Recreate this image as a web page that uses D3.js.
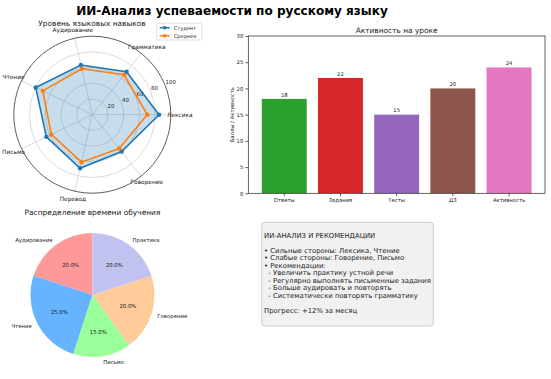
<!DOCTYPE html>
<html>
<head>
<meta charset="utf-8">
<script src="https://cdn.jsdelivr.net/npm/d3@7"></script>
<style>
    body { margin: 0; background: #fff; }
    svg { font-family: "DejaVu Sans", sans-serif; display: block; }
</style>
</head>
<body>
<svg id="chart" width="551" height="379"></svg>
<script>
// radar data
let skills = ['Лексика', 'Грамматика', 'Аудирование', 'Чтение', 'Письмо', 'Перевод', 'Говорение'];
let studentScores = [85, 70, 65, 80, 65, 70, 60];
let averageScores = [70, 65, 60, 70, 58, 62, 55];
let radialTicks = [20, 40, 60, 80, 100];

// bar data
let activityTypes = ['Ответы', 'Задания', 'Тесты', 'ДЗ', 'Активность'];
let activityValues = [18, 22, 15, 20, 24];
let activityColors = ['#2ca02c', '#d62728', '#9467bd', '#8c564b', '#e377c2'];
let barTicks = [0, 5, 10, 15, 20, 25, 30];

// pie data
let timeLabels = ['Аудирование', 'Чтение', 'Письмо', 'Говорение', 'Практика'];
let timeShares = [20, 25, 15, 20, 20];
let timeColors = ['#ff9999', '#66b3ff', '#99ff99', '#ffcc99', '#c2c2f0'];

// text block
let reportLines = [
    'ИИ-АНАЛИЗ И РЕКОМЕНДАЦИИ',
    '',
    '• Сильные стороны: Лексика, Чтение',
    '• Слабые стороны: Говорение, Письмо',
    '• Рекомендации:',
    '  - Увеличить практику устной речи',
    '  - Регулярно выполнять письменные задания',
    '  - Больше аудировать и повторять',
    '  - Систематически повторять грамматику',
    '',
    'Прогресс: +12% за месяц'
];

let svg = d3.select('#chart');

// font size that makes a text node as wide as it is in the reference
function fitSize(node, target) {
    let fs = parseFloat(node.getAttribute('font-size'));
    let w = node.getComputedTextLength();
    return w > 0 ? fs * target / w : fs;
}

let mainTitle = svg.append('text')
    .attr('x', 232).attr('y', 14.5)
    .attr('text-anchor', 'middle')
    .attr('font-size', 12.5).attr('font-weight', 'bold')
    .text('ИИ-Анализ успеваемости по русскому языку');
mainTitle.attr('font-size', fitSize(mainTitle.node(), 312));

drawRadar();
drawBars();
drawPie();
drawReport();

function drawRadar() {
    let cx = 92.3, cy = 114.7, R = 78.5;
    let g = svg.append('g').attr('transform', 'translate(' + cx + ',' + cy + ')');
    let r = d3.scaleLinear().domain([0, 100]).range([0, R]);
    let angle = d3.scaleLinear().domain([0, skills.length]).range([0, 2 * Math.PI]);

    // point for index i, value v (0 rad = right, counter-clockwise)
    let pt = (i, v) => [r(v) * Math.cos(angle(i)), -r(v) * Math.sin(angle(i))];

    g.selectAll('circle.grid')
        .data(radialTicks.slice(0, -1))
        .enter().append('circle')
        .attr('r', d => r(d))
        .attr('fill', 'none').attr('stroke', '#d0d0d0').attr('stroke-width', 0.8);

    g.selectAll('line.spoke')
        .data(skills)
        .enter().append('line')
        .attr('x1', 0).attr('y1', 0)
        .attr('x2', (d, i) => pt(i, 100)[0])
        .attr('y2', (d, i) => pt(i, 100)[1])
        .attr('stroke', '#d0d0d0').attr('stroke-width', 0.8);

    g.append('circle').attr('r', R)
        .attr('fill', 'none').attr('stroke', '#333').attr('stroke-width', 0.8);

    let line = d3.line().curve(d3.curveLinearClosed);
    let studentPts = studentScores.map((v, i) => pt(i, v));
    let averagePts = averageScores.map((v, i) => pt(i, v));

    g.append('path').attr('d', line(studentPts))
        .attr('fill', '#1f77b4').attr('fill-opacity', 0.25).attr('stroke', 'none');

    g.append('path').attr('d', line(studentPts))
        .attr('fill', 'none').attr('stroke', '#1f77b4').attr('stroke-width', 1.6);
    g.selectAll('circle.s').data(studentPts).enter().append('circle')
        .attr('cx', d => d[0]).attr('cy', d => d[1]).attr('r', 2.2).attr('fill', '#1f77b4');

    g.append('path').attr('d', line(averagePts))
        .attr('fill', 'none').attr('stroke', '#ff7f0e').attr('stroke-width', 1.6);
    g.selectAll('circle.a').data(averagePts).enter().append('circle')
        .attr('cx', d => d[0]).attr('cy', d => d[1]).attr('r', 2.2).attr('fill', '#ff7f0e');

    // radial tick labels along 22.5 deg
    let ra = 22.5 * Math.PI / 180;
    g.selectAll('text.rt').data(radialTicks).enter().append('text')
        .attr('x', d => r(d) * Math.cos(ra) + 0.8)
        .attr('y', d => -r(d) * Math.sin(ra) - 0.8)
        .attr('font-size', 5.4).attr('fill', '#222')
        .text(d => d);

    let labels = g.selectAll('text.lab').data(skills).enter().append('text')
        .attr('x', (d, i) => (R + 9) * Math.cos(angle(i)))
        .attr('y', (d, i) => -(R + 8) * Math.sin(angle(i)))
        .attr('text-anchor', 'middle').attr('dominant-baseline', 'central')
        .attr('font-size', 6.2).attr('fill', '#222')
        .text(d => d);
    labels.attr('font-size', fitSize(labels.nodes()[2], 40.7));

    let title = svg.append('text')
        .attr('x', 92).attr('y', 25.5)
        .attr('text-anchor', 'middle').attr('font-size', 8).attr('fill', '#222')
        .text('Уровень языковых навыков');
    title.attr('font-size', fitSize(title.node(), 107.5));

    // legend
    let lg = svg.append('g').attr('transform', 'translate(156.7,23.3)');
    lg.append('rect').attr('width', 45).attr('height', 16.7).attr('rx', 1.5)
        .attr('fill', '#fff').attr('stroke', '#d6d6d6').attr('stroke-width', 0.8);
    let entries = [['Студент', '#1f77b4'], ['Среднее', '#ff7f0e']];
    let legendTexts = [];
    entries.forEach((e, i) => {
        let y = 4.4 + i * 8;
        lg.append('line').attr('x1', 3).attr('x2', 13).attr('y1', y).attr('y2', y)
            .attr('stroke', e[1]).attr('stroke-width', 1.5);
        lg.append('circle').attr('cx', 8).attr('cy', y).attr('r', 1.8).attr('fill', e[1]);
        legendTexts.push(lg.append('text').attr('x', 17).attr('y', y)
            .attr('dominant-baseline', 'central')
            .attr('font-size', 5.6).attr('fill', '#222').text(e[0]));
    });
    let legendSize = fitSize(legendTexts[0].node(), 22.3);
    legendTexts.forEach(t => t.attr('font-size', legendSize));
}

function drawBars() {
    let left = 248.3, right = 545, top = 36, bottom = 193.3;
    let x = d3.scaleBand().domain(activityTypes).range([left, right])
        .paddingInner(0.2).paddingOuter(0.24);
    let y = d3.scaleLinear().domain([0, 30]).range([bottom, top]);

    svg.selectAll('rect.bar').data(activityValues).enter().append('rect')
        .attr('x', (d, i) => x(activityTypes[i]))
        .attr('y', d => y(d))
        .attr('width', x.bandwidth())
        .attr('height', d => y(0) - y(d))
        .attr('fill', (d, i) => activityColors[i]);

    let yAxis = svg.append('g').attr('transform', 'translate(' + left + ',0)')
        .call(d3.axisLeft(y).tickValues(barTicks).tickSize(3).tickPadding(2));
    let xAxis = svg.append('g').attr('transform', 'translate(0,' + bottom + ')')
        .call(d3.axisBottom(x).tickSize(3).tickPadding(2));
    [yAxis, xAxis].forEach(a => {
        a.select('.domain').remove();
        a.selectAll('text').attr('font-size', 6).attr('fill', '#222')
            .attr('font-family', '"DejaVu Sans", sans-serif');
        a.selectAll('line').attr('stroke', '#222').attr('stroke-width', 0.7);
    });
    let tickSize = fitSize(xAxis.selectAll('text').nodes()[4], 32.4);
    yAxis.selectAll('text').attr('font-size', tickSize);
    xAxis.selectAll('text').attr('font-size', tickSize);

    svg.selectAll('text.val').data(activityValues).enter().append('text')
        .attr('x', (d, i) => x(activityTypes[i]) + x.bandwidth() / 2)
        .attr('y', d => y(d) - 2.3)
        .attr('text-anchor', 'middle').attr('font-size', tickSize).attr('fill', '#222')
        .text(d => d);

    svg.append('rect')
        .attr('x', left).attr('y', top).attr('width', right - left).attr('height', bottom - top)
        .attr('fill', 'none').attr('stroke', '#222').attr('stroke-width', 0.7);

    let title = svg.append('text')
        .attr('x', (left + right) / 2).attr('y', 33)
        .attr('text-anchor', 'middle').attr('font-size', 8).attr('fill', '#222')
        .text('Активность на уроке');
    title.attr('font-size', fitSize(title.node(), 82));

    svg.append('text')
        .attr('transform', 'translate(234,' + ((top + bottom) / 2) + ') rotate(-90)')
        .attr('text-anchor', 'middle').attr('font-size', tickSize).attr('fill', '#222')
        .text('Баллы / Активность');
}

function drawPie() {
    let cx = 92.5, cy = 295, R = 62;
    let g = svg.append('g').attr('transform', 'translate(' + cx + ',' + cy + ')');
    // start at top, go counter-clockwise like matplotlib startangle=90
    let pie = d3.pie().sort(null).startAngle(0).endAngle(-2 * Math.PI);
    let arcs = pie(timeShares);
    let arc = d3.arc().innerRadius(0).outerRadius(R);

    g.selectAll('path').data(arcs).enter().append('path')
        .attr('d', arc)
        .attr('fill', (d, i) => timeColors[i]);

    let mid = d => (d.startAngle + d.endAngle) / 2;
    let total = d3.sum(timeShares);

    let labels = g.selectAll('text.lab').data(arcs).enter().append('text')
        .attr('x', d => 1.1 * R * Math.sin(mid(d)))
        .attr('y', d => -1.1 * R * Math.cos(mid(d)))
        .attr('text-anchor', d => {
            let s = Math.sin(mid(d));
            return Math.abs(s) < 0.05 ? 'middle' : (s > 0 ? 'start' : 'end');
        })
        .attr('dominant-baseline', 'central')
        .attr('font-size', 6).attr('fill', '#222')
        .text((d, i) => timeLabels[i]);
    let labelSize = fitSize(labels.nodes()[0], 37.3);
    labels.attr('font-size', labelSize);

    g.selectAll('text.pct').data(arcs).enter().append('text')
        .attr('x', d => 0.6 * R * Math.sin(mid(d)))
        .attr('y', d => -0.6 * R * Math.cos(mid(d)))
        .attr('text-anchor', 'middle').attr('dominant-baseline', 'central')
        .attr('font-size', labelSize).attr('fill', '#222')
        .text(d => (d.value / total * 100).toFixed(1) + '%');

    let title = svg.append('text')
        .attr('x', 92.5).attr('y', 214.5)
        .attr('text-anchor', 'middle').attr('font-size', 8).attr('fill', '#222')
        .text('Распределение времени обучения');
    title.attr('font-size', fitSize(title.node(), 136));
}

function drawReport() {
    svg.append('rect')
        .attr('x', 261.7).attr('y', 222.3).attr('width', 171.6).attr('height', 103.7)
        .attr('rx', 3)
        .attr('fill', '#f1f1f1').attr('stroke', '#c4c4c4').attr('stroke-width', 0.8);

    let lines = svg.append('g').selectAll('text').data(reportLines).enter().append('text')
        .attr('x', 264)
        .attr('y', (d, i) => 237.5 + i * 7.5)
        .attr('font-size', 6.6).attr('fill', '#222')
        .style('white-space', 'pre')
        .text(d => d);
    // longest line reaches the right edge of the box
    lines.attr('font-size', fitSize(lines.nodes()[6], 167));
}
</script>
</body>
</html>
